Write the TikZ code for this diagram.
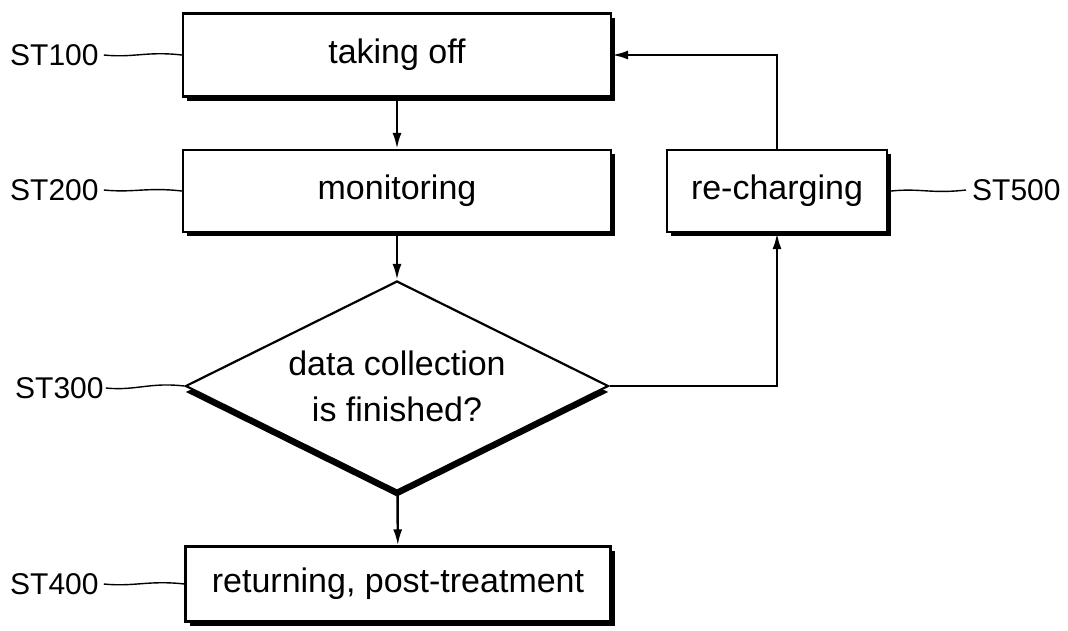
\documentclass[tikz,border=0pt]{standalone}
\usepackage{fontspec}
\setmainfont{Liberation Sans}
\usetikzlibrary{shapes.geometric,arrows.meta,shadows}
\begin{document}
\begin{tikzpicture}[x=1pt,y=-1pt,
  every node/.style={font=\fontsize{34}{38}\selectfont},
  box/.style={draw,line width=2.2pt,fill=white,inner sep=0pt,
    drop shadow={shadow xshift=4pt,shadow yshift=-4pt,fill=black,opacity=1}},
  dia/.style={draw,diamond,aspect=2.01,line width=2.2pt,fill=white,inner sep=0pt,
    drop shadow={shadow xshift=0pt,shadow yshift=-6pt,fill=black,opacity=1}},
  lbl/.style={inner sep=0pt,font=\fontsize{30}{34}\selectfont},
  conn/.style={line width=2.4pt},
  arr/.style={conn,-{Latex[length=16pt,width=9pt]}},
  lead/.style={line width=1.4pt}]
\useasboundingbox (0,0) rectangle (1068,630);
\node[box,minimum width=428pt,minimum height=83pt] (b1) at (397,55) {taking off};
\node[box,minimum width=428pt,minimum height=82pt] (b2) at (397,191) {monitoring};
\node[box,minimum width=220pt,minimum height=82pt] (b5) at (777,191) {re-charging};
\node[box,minimum width=425pt,minimum height=75pt] (b4) at (398,584) {returning, post-treatment};
\node[dia,minimum width=423pt,minimum height=210pt,align=center,
  font=\fontsize{34}{46}\selectfont] (b3) at (397,386) {data collection\\is finished?};
\node[lbl,anchor=west] (l1) at (10,55) {ST100};
\node[lbl,anchor=west] (l2) at (10,190) {ST200};
\node[lbl,anchor=west] (l3) at (15,388) {ST300};
\node[lbl,anchor=west] (l4) at (10,584) {ST400};
\node[lbl,anchor=west] (l5) at (972,190) {ST500};
\draw[lead] ([xshift=5pt]l1.east) .. controls +(30,3) and +(-35,-4) .. (b1.west);
\draw[lead] ([xshift=5pt]l2.east) .. controls +(30,3) and +(-35,-4) .. (b2.west);
\draw[lead] ([xshift=2pt]l3.east) .. controls +(30,3) and +(-35,-4) .. (b3.west);
\draw[lead] ([xshift=5pt]l4.east) .. controls +(30,3) and +(-35,-4) .. (b4.west);
\draw[lead] ([xshift=3pt]b5.east) .. controls +(30,-3) and +(-35,4) .. ([xshift=-6pt]l5.west);
\draw[arr] (b1) -- (b2);
\draw[arr] (b2) -- (b3);
\draw[arr] (b3) -- (b4);
\draw[arr] (b3.east) -| (b5.south);
\draw[arr] (b5.north) |- (b1.east);
\end{tikzpicture}
\end{document}
